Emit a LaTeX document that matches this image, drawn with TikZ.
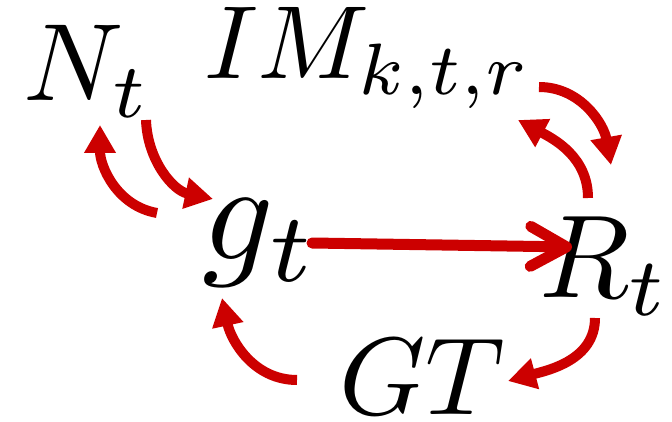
\documentclass[tikz,border=0pt]{standalone}
\usetikzlibrary{arrows.meta,calc}
\definecolor{arrred}{RGB}{204,0,0}
\begin{document}
\begin{tikzpicture}[x=1pt,y=1pt,
  lbl/.style={inner sep=0pt,anchor=base west,transform shape},
  curvy/.style={draw=arrred,line width=10pt,-{Triangle[length=28pt,width=30pt]}},
  straightarr/.style={draw=arrred,line width=11pt,line cap=round,-{Straight Barb[length=36pt,width=40pt,round]}}]
\useasboundingbox (0,0) rectangle (672,421);
\node[lbl,scale=11] (N) at (21.5,320) {$N_t$};
\node[lbl,scale=10.4] (IM) at (202,342) {$IM_{k,t,r}$};
\node[lbl,scale=14] (g) at (200,161) {$g_t$};
\node[lbl,scale=11.8] (R) at (537,123) {$R_t$};
\node[lbl,scale=11] (GT) at (337,7) {$GT$};
% N -> g
\draw[curvy] ($(N.base west)+(124.5,-19)$) to[out=-88,in=168] ($(g.base west)+(13,61)$);
% g -> N
\draw[curvy] ($(g.base west)+(-43,47)$) to[out=170,in=-90] ($(N.base west)+(78.5,-24)$);
% g -> R
\draw[straightarr] ($(g.base west)+(112,17)$) -- ($(R.base west)+(35,51)$);
% R -> IM
\draw[curvy] ($(R.base west)+(51,100)$) to[out=90,in=-28] ($(IM.base west)+(316,-41)$);
% IM -> R
\draw[curvy] ($(IM.base west)+(337,-8)$) to[out=0,in=100] ($(R.base west)+(74,133)$);
% R -> GT
\draw[curvy] ($(R.base west)+(58,-20)$) to[out=-90,in=15] ($(GT.base west)+(171,33)$);
% GT -> g
\draw[curvy] ($(GT.base west)+(-40,34)$) to[out=180,in=-78] ($(g.base west)+(22,-38)$);
\end{tikzpicture}
\end{document}
